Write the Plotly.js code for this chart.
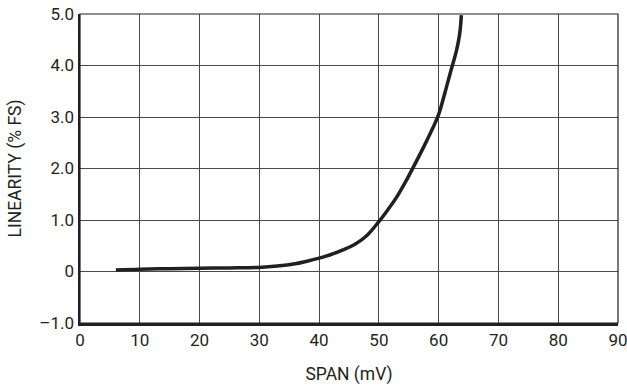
<!DOCTYPE html>
<html>
<head>
<meta charset="utf-8">
<script src="https://cdn.plot.ly/plotly-3.0.1.min.js"></script>
<style>html,body{margin:0;padding:0;background:#fff;}#chart{width:627px;height:387px;}</style>
</head>
<body>
<div id="chart"></div>
<script>
const spanMv = [6, 10, 15, 20, 25, 30, 33, 36, 38, 40, 42, 44, 46, 48, 50, 51.5, 53, 54.5, 56, 57.5, 59, 60, 61, 62, 63, 63.5, 63.8];
const linearity = [0.03, 0.045, 0.055, 0.065, 0.07, 0.08, 0.105, 0.15, 0.2, 0.26, 0.33, 0.42, 0.53, 0.7, 0.97, 1.2, 1.45, 1.75, 2.08, 2.42, 2.78, 3.05, 3.45, 3.88, 4.3, 4.6, 4.98];
const xTickVals = [0, 10, 20, 30, 40, 50, 60, 70, 80, 90];
const xTickText = ['0', '10', '20', '30', '40', '50', '60', '70', '80', '90'];
const yTickVals = [-1, 0, 1, 2, 3, 4, 5];
const yTickText = ['\u20131.0', '0', '1.0', '2.0', '3.0', '4.0', '5.0'];

const ink = '#231f20';
const fontFam = 'Roboto, "Liberation Sans", Arial, sans-serif';

const trace = {
  x: spanMv, y: linearity, type: 'scatter', mode: 'lines',
  line: {color: ink, width: 3.5, shape: 'spline', smoothing: 1},
  hoverinfo: 'skip'
};

const layout = {
  width: 627, height: 387,
  margin: {l: 79.5, r: 9.3, t: 14, b: 64},
  paper_bgcolor: '#fff', plot_bgcolor: '#fff',
  showlegend: false,
  font: {family: fontFam, size: 17, color: ink},
  xaxis: {
    range: [0, 90], tickvals: xTickVals, ticktext: xTickText,
    showgrid: true, gridcolor: '#4a4a4a', gridwidth: 1,
    zeroline: false, showline: true, linecolor: ink, linewidth: 2.5,
    ticks: '', ticklen: 0, ticklabeloverflow: 'allow',
    tickfont: {family: fontFam, size: 17, color: ink},
    title: {text: 'SPAN (mV)', font: {family: fontFam, size: 17.5, color: ink}, standoff: 19},
    fixedrange: true
  },
  yaxis: {
    range: [-1, 5], tickvals: yTickVals, ticktext: yTickText,
    showgrid: true, gridcolor: '#4a4a4a', gridwidth: 1,
    zeroline: false, showline: true, linecolor: ink, linewidth: 2.5,
    ticks: '', ticklen: 0, ticklabeloverflow: 'allow',
    tickfont: {family: fontFam, size: 17, color: ink},
    title: {text: 'LINEARITY (% FS)', font: {family: fontFam, size: 17.5, color: ink}, standoff: 13},
    fixedrange: true
  },
  shapes: [
    {type: 'rect', xref: 'paper', yref: 'paper', x0: 0, x1: 1, y0: 0, y1: 1,
     line: {color: ink, width: 1.2}, fillcolor: 'rgba(0,0,0,0)', layer: 'above'}
  ]
};

Plotly.newPlot('chart', [trace], layout, {staticPlot: true, displayModeBar: false});
</script>
</body>
</html>
